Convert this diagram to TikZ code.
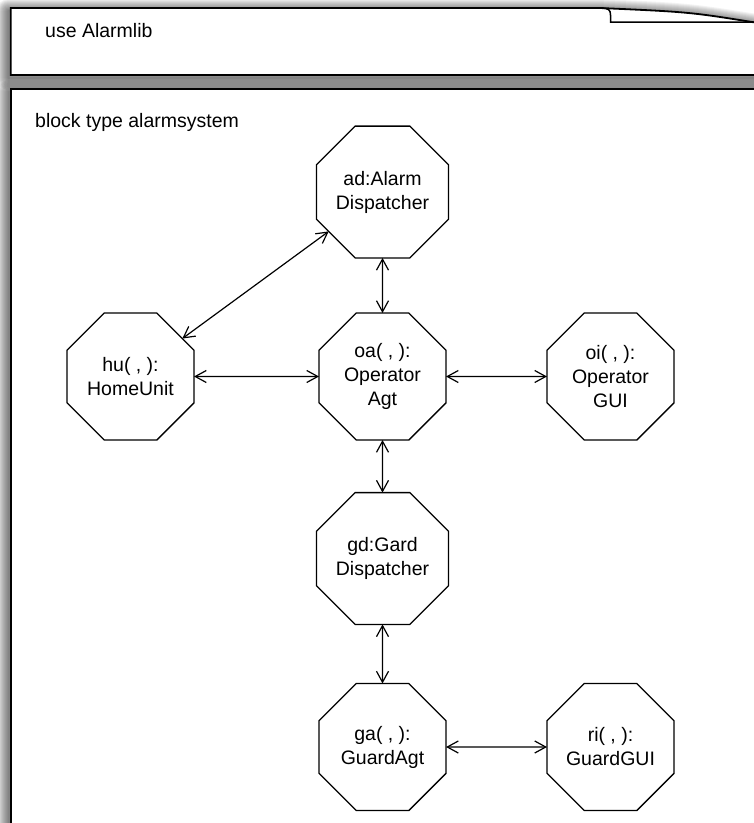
\documentclass[tikz,border=0pt]{standalone}
\usepackage{fontspec}
\setmainfont{Liberation Sans}
\usetikzlibrary{shapes.geometric,arrows.meta}
\begin{document}
\begin{tikzpicture}[x=1pt,y=-1pt,
  unit/.style={draw, line width=1.3pt, regular polygon, regular polygon sides=8,
    minimum size=137.5pt, inner sep=0pt, outer sep=0pt, align=center,
    font=\fontsize{19.5}{24}\selectfont},
  link/.style={line width=1.2pt,
    {Straight Barb[length=11pt,width=12pt]}-{Straight Barb[length=11pt,width=12pt]}},
  frame/.style={line width=1.8pt, fill=white, line join=miter},
  caption/.style={anchor=base west, inner sep=0pt, font=\fontsize{19.5}{24}\selectfont}]
\useasboundingbox (0,0) rectangle (754,823);
\clip (0,0) rectangle (754,823);
\fill[white] (0,0) rectangle (754,823);

% soft drop shadows behind the two frames
\begin{scope}[shift={(-2,3)}]
  \foreach \w in {2,4,...,24}{
    \draw[line width=\w pt, black, opacity=0.05, line join=round]
      (10.7,75) -- (10.7,8) -- (600,8) .. controls (690,12) .. (760,23.3)
      -- (800,23.5) -- (800,75) -- cycle;
    \draw[line width=\w pt, black, opacity=0.05, line join=round]
      (10.7,89) -- (800,89) -- (800,900) -- (10.7,900) -- cycle;
  }
\end{scope}

% package frame with curled corner
\draw[frame] (10.7,75) -- (10.7,8) -- (600,8) .. controls (690,12) .. (760,23.3)
  -- (800,23.5) -- (800,75) -- cycle;
\draw[line width=1.5pt] (600,8) .. controls (609,8) and (610.5,10) .. (610.5,15)
  -- (610.5,22) -- (800,22);
\node[caption] (uselib) at (45,37) {use Alarmlib};

% block frame
\draw[frame] (10.7,89) -- (800,89) -- (800,900) -- (10.7,900) -- cycle;
\node[caption] (blocktitle) at (35,127) {block type alarmsystem};

% process instances
\node[unit] (ad) at (382.5,192)   {ad:Alarm\\Dispatcher};
\node[unit] (hu) at (130.5,376.5) {hu( , ):\\HomeUnit};
\node[unit] (oa) at (382.5,376.5) {oa( , ):\\Operator\\Agt};
\node[unit] (oi) at (610.5,376.5) {oi( , ):\\Operator\\GUI};
\node[unit] (gd) at (382.5,558.5) {gd:Gard\\Dispatcher};
\node[unit] (ga) at (382.5,747)   {ga( , ):\\GuardAgt};
\node[unit] (ri) at (610.5,747)   {ri( , ):\\GuardGUI};

% signal routes
\draw[link] (hu) -- (ad);
\draw[link] (hu) -- (oa);
\draw[link] (oa) -- (oi);
\draw[link] (ad) -- (oa);
\draw[link] (oa) -- (gd);
\draw[link] (gd) -- (ga);
\draw[link] (ga) -- (ri);
\end{tikzpicture}
\end{document}
